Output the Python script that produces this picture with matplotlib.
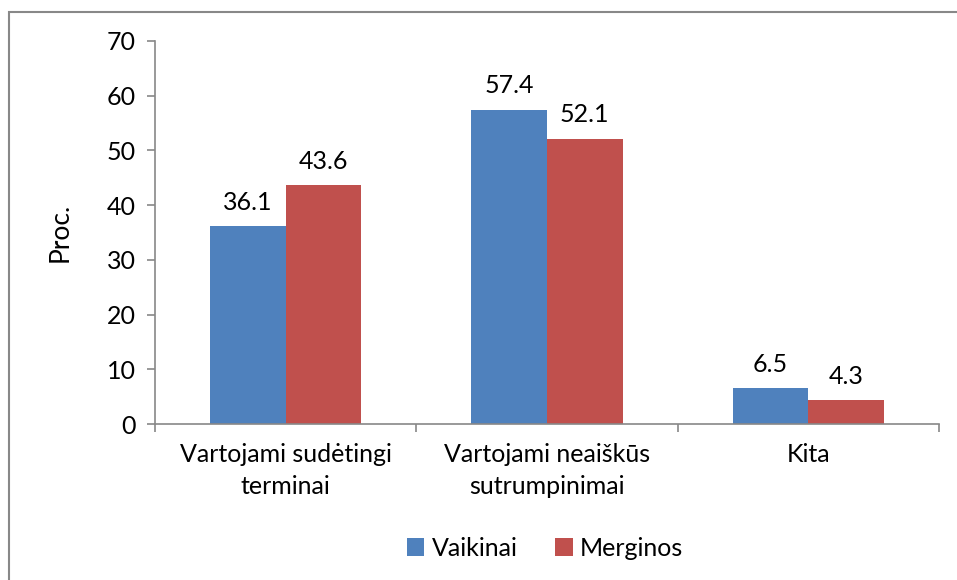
import matplotlib
matplotlib.use("Agg")
import matplotlib.pyplot as plt
from matplotlib.patches import Rectangle
import numpy as np

categories = ["Vartojami sudėtingi\nterminai", "Vartojami neaiškūs\nsutrumpinimai", "Kita"]
series_names = ["Vaikinai", "Merginos"]
vaikinai = [36.1, 57.4, 6.5]
merginos = [43.6, 52.1, 4.3]
colors = ["#4F81BD", "#C0504D"]

plt.rcParams['font.family'] = ['Lato', 'DejaVu Sans']
FS = 18

fig = plt.figure(figsize=(9.57, 5.8), dpi=100)
ax = fig.add_axes([155/957, 1-424/580, (939-155)/957, (424-41)/580])

x = np.arange(len(categories))
w = 0.289
b1 = ax.bar(x - w/2, vaikinai, w, color=colors[0], label=series_names[0])
b2 = ax.bar(x + w/2, merginos, w, color=colors[1], label=series_names[1])

for bars, vals in ((b1, vaikinai), (b2, merginos)):
    for r, v in zip(bars, vals):
        ax.annotate(f"{v}", (r.get_x() + r.get_width()/2, v), xytext=(0, 9),
                    textcoords="offset points", ha="center", va="bottom", fontsize=FS)

ax.set_xlim(-0.5, len(categories) - 0.5)
ax.set_ylim(0, 70)
ax.set_yticks(range(0, 71, 10))
ax.set_xticks(x)
ax.set_xticklabels(categories, fontsize=FS, linespacing=1.45)
ax.set_xticks(np.arange(-0.5, len(categories), 1), minor=True)
ax.tick_params(axis='x', which='major', length=0, pad=14)
ax.tick_params(axis='x', which='minor', length=6, color="#888888", width=1.2)
ax.tick_params(axis='y', length=6, color="#888888", width=1.2, labelsize=FS, pad=8)

for s in ("top", "right"):
    ax.spines[s].set_visible(False)
for s in ("left", "bottom"):
    ax.spines[s].set_color("#888888")
    ax.spines[s].set_linewidth(1.2)

ax.set_ylabel("Proc.", fontsize=FS + 1, labelpad=24)

fig.legend(handles=[b1, b2], labels=series_names, loc="center", bbox_to_anchor=(545/957, 1-548/580),
           ncol=2, frameon=False, fontsize=FS, handlelength=0.7, handleheight=0.7,
           handletextpad=0.3, columnspacing=1.5)

fig.patches.append(Rectangle((9/957, -0.1), 1.2, 1 - 12/580 + 0.1, transform=fig.transFigure,
                             fill=False, edgecolor="#888888", linewidth=1.5))

fig.savefig("out.png", dpi=100)
